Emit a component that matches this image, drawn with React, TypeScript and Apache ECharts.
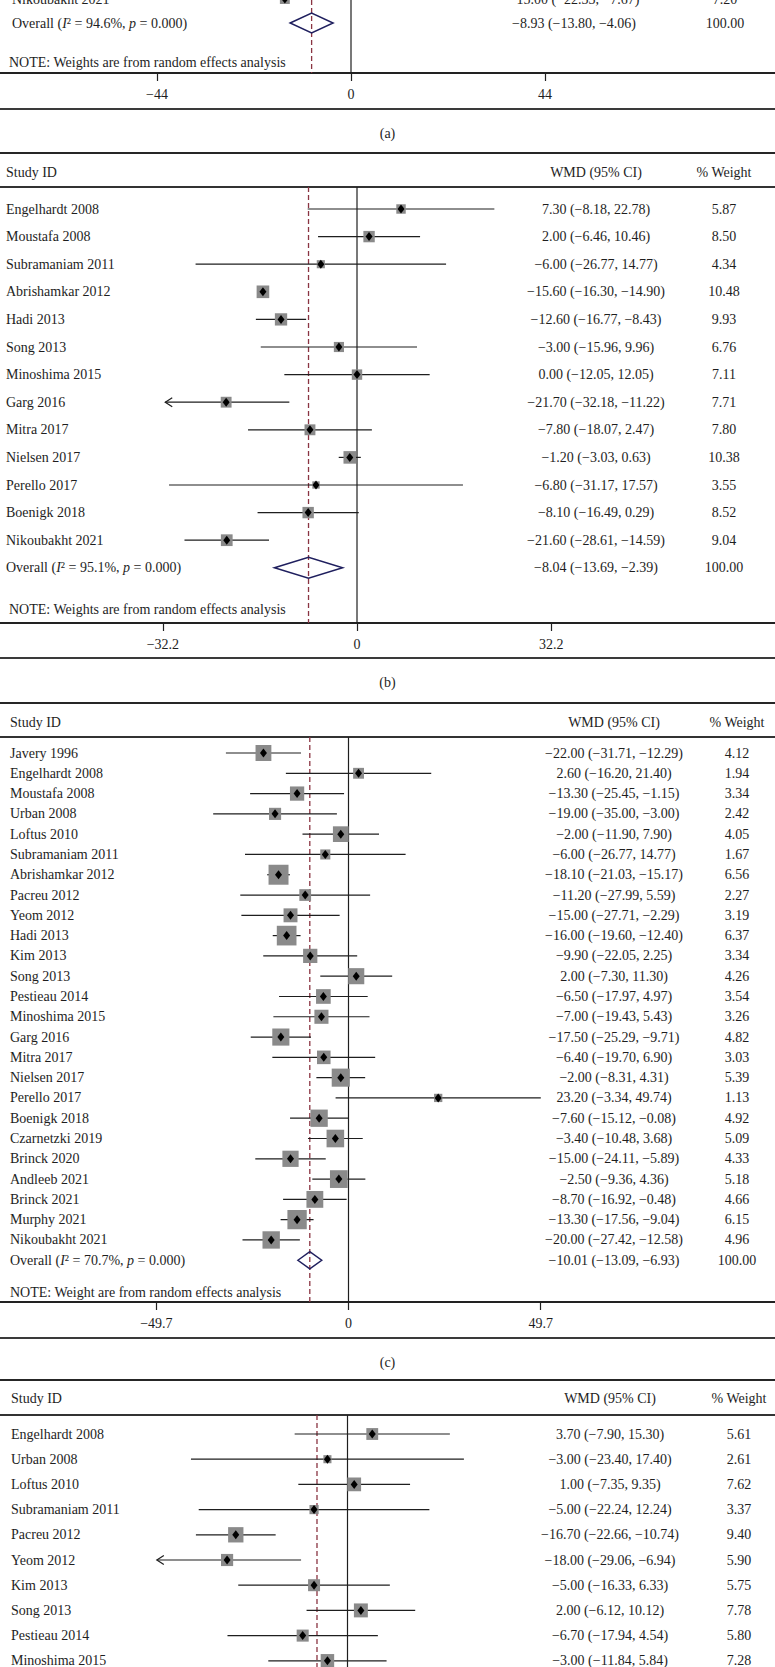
import React, { useEffect, useRef } from 'react';
import * as echarts from 'echarts';

const FONT = '"Liberation Serif", "Times New Roman", serif';
const INK = '#1e1e1e';
const BOX = '#8a8a8a';
const DASH = '#8a3442';
const NAVY = '#1f1f5e';
const W = 775;
const H = 1667;

// ---------- Panel (a): only its tail is visible ----------
const studiesA = ['Nikoubakht 2021'];
const wmdA = [-15.0];
const lowA = [-22.33];
const highA = [-7.67];
const weightA = [7.2];
const overallA = [-8.93, -13.8, -4.06];
const hetA = ['94.6%', '0.000'];
const ticksA = [-44, 0, 44];

// ---------- Panel (b) ----------
const studiesB = ['Engelhardt 2008', 'Moustafa 2008', 'Subramaniam 2011', 'Abrishamkar 2012', 'Hadi 2013', 'Song 2013', 'Minoshima 2015', 'Garg 2016', 'Mitra 2017', 'Nielsen 2017', 'Perello 2017', 'Boenigk 2018', 'Nikoubakht 2021'];
const wmdB = [7.3, 2.0, -6.0, -15.6, -12.6, -3.0, 0.0, -21.7, -7.8, -1.2, -6.8, -8.1, -21.6];
const lowB = [-8.18, -6.46, -26.77, -16.3, -16.77, -15.96, -12.05, -32.18, -18.07, -3.03, -31.17, -16.49, -28.61];
const highB = [22.78, 10.46, 14.77, -14.9, -8.43, 9.96, 12.05, -11.22, 2.47, 0.63, 17.57, 0.29, -14.59];
const weightB = [5.87, 8.5, 4.34, 10.48, 9.93, 6.76, 7.11, 7.71, 7.8, 10.38, 3.55, 8.52, 9.04];
const overallB = [-8.04, -13.69, -2.39];
const hetB = ['95.1%', '0.000'];
const ticksB = [-32.2, 0, 32.2];

// ---------- Panel (c) ----------
const studiesC = ['Javery 1996', 'Engelhardt 2008', 'Moustafa 2008', 'Urban 2008', 'Loftus 2010', 'Subramaniam 2011', 'Abrishamkar 2012', 'Pacreu 2012', 'Yeom 2012', 'Hadi 2013', 'Kim 2013', 'Song 2013', 'Pestieau 2014', 'Minoshima 2015', 'Garg 2016', 'Mitra 2017', 'Nielsen 2017', 'Perello 2017', 'Boenigk 2018', 'Czarnetzki 2019', 'Brinck 2020', 'Andleeb 2021', 'Brinck 2021', 'Murphy 2021', 'Nikoubakht 2021'];
const wmdC = [-22.0, 2.6, -13.3, -19.0, -2.0, -6.0, -18.1, -11.2, -15.0, -16.0, -9.9, 2.0, -6.5, -7.0, -17.5, -6.4, -2.0, 23.2, -7.6, -3.4, -15.0, -2.5, -8.7, -13.3, -20.0];
const lowC = [-31.71, -16.2, -25.45, -35.0, -11.9, -26.77, -21.03, -27.99, -27.71, -19.6, -22.05, -7.3, -17.97, -19.43, -25.29, -19.7, -8.31, -3.34, -15.12, -10.48, -24.11, -9.36, -16.92, -17.56, -27.42];
const highC = [-12.29, 21.4, -1.15, -3.0, 7.9, 14.77, -15.17, 5.59, -2.29, -12.4, 2.25, 11.3, 4.97, 5.43, -9.71, 6.9, 4.31, 49.74, -0.08, 3.68, -5.89, 4.36, -0.48, -9.04, -12.58];
const weightC = [4.12, 1.94, 3.34, 2.42, 4.05, 1.67, 6.56, 2.27, 3.19, 6.37, 3.34, 4.26, 3.54, 3.26, 4.82, 3.03, 5.39, 1.13, 4.92, 5.09, 4.33, 5.18, 4.66, 6.15, 4.96];
const overallC = [-10.01, -13.09, -6.93];
const hetC = ['70.7%', '0.000'];
const ticksC = [-49.7, 0, 49.7];

// ---------- Panel (d): only its head is visible ----------
const studiesD = ['Engelhardt 2008', 'Urban 2008', 'Loftus 2010', 'Subramaniam 2011', 'Pacreu 2012', 'Yeom 2012', 'Kim 2013', 'Song 2013', 'Pestieau 2014', 'Minoshima 2015'];
const wmdD = [3.7, -3.0, 1.0, -5.0, -16.7, -18.0, -5.0, 2.0, -6.7, -3.0];
const lowD = [-7.9, -23.4, -7.35, -22.24, -22.66, -29.06, -16.33, -6.12, -17.94, -11.84];
const highD = [15.3, 17.4, 9.35, 12.24, -10.74, -6.94, 6.33, 10.12, 4.54, 5.84];
const weightD = [5.61, 2.61, 7.62, 3.37, 9.4, 5.9, 5.75, 7.78, 5.8, 7.28];
const pooledD = -4.56;
const ticksD: number[] = [];

const noteWeights = 'NOTE: Weights are from random effects analysis';
const noteWeight = 'NOTE: Weight are from random effects analysis';

const panels = [
  {
    studies: studiesA, wmd: wmdA, low: lowA, high: highA, weight: weightA, overall: overallA, het: hetA, pooled: overallA[0], ticks: ticksA, note: noteWeights, label: '(a)',
    L: { zeroX: 351, ppu: 4.41, rowY0: -1, rowH: 24, plotTop: 0, axisY: 73, topLineY: null, headerY: null, bottomLineY: 109, labelY: 133, nameX: 12, noteX: 9, noteY: 62, wmdX: 574, wtX: 725, boxK: 3.7, ovHalf: 10, clipMin: -999, showAxis: true },
  },
  {
    studies: studiesB, wmd: wmdB, low: lowB, high: highB, weight: weightB, overall: overallB, het: hetB, pooled: overallB[0], ticks: ticksB, note: noteWeights, label: '(b)',
    L: { zeroX: 357, ppu: 6.03, rowY0: 209, rowH: 27.6, plotTop: 187, axisY: 623, topLineY: 153, headerY: 172, bottomLineY: 658, labelY: 682, nameX: 6, noteX: 9, noteY: 609, wmdX: 596, wtX: 724, boxK: 3.9, ovHalf: 10.5, clipMin: -31.8, showAxis: true },
  },
  {
    studies: studiesC, wmd: wmdC, low: lowC, high: highC, weight: weightC, overall: overallC, het: hetC, pooled: overallC[0], ticks: ticksC, note: noteWeight, label: '(c)',
    L: { zeroX: 348.5, ppu: 3.866, rowY0: 753, rowH: 20.29, plotTop: 737, axisY: 1302, topLineY: 703, headerY: 722, bottomLineY: 1338, labelY: 1362, nameX: 10, noteX: 10, noteY: 1292, wmdX: 614, wtX: 737, boxK: 7.8, ovHalf: 8.5, clipMin: -999, showAxis: true },
  },
  {
    studies: studiesD, wmd: wmdD, low: lowD, high: highD, weight: weightD, overall: null, het: null, pooled: pooledD, ticks: ticksD, note: null, label: null,
    L: { zeroX: 347.5, ppu: 6.69, rowY0: 1434, rowH: 25.2, plotTop: 1415, axisY: H, topLineY: 1380, headerY: 1398, bottomLineY: null, labelY: null, nameX: 11, noteX: 11, noteY: null, wmdX: 610, wtX: 739, boxK: 5.0, ovHalf: 10, clipMin: -28.5, showAxis: false },
  },
];

const fmt = (v: number) => (v < 0 ? '\u2212' : '') + Math.abs(v).toFixed(2);
const fmtCI = (e: number, l: number, h: number) => `${fmt(e)} (${fmt(l)}, ${fmt(h)})`;
const tickFmt = (v: number) => (v < 0 ? '\u2212' : '') + String(Math.abs(v));

const txt = (x: number, y: number, text: string, align: string, extra: any = {}) => ({
  type: 'text',
  x,
  y,
  silent: true,
  style: {
    text,
    fontFamily: FONT,
    fontSize: 14,
    fill: INK,
    align,
    textAlign: align,
    verticalAlign: 'middle',
    textVerticalAlign: 'middle',
    ...extra,
  },
});

const hline = (y: number, color: string, width: number) => ({
  type: 'line',
  silent: true,
  shape: { x1: 0, y1: y, x2: W, y2: y },
  style: { stroke: color, lineWidth: width },
});

function buildOption() {
  const grid: any[] = [];
  const xAxis: any[] = [];
  const yAxis: any[] = [];
  const series: any[] = [];
  const graphic: any[] = [];

  panels.forEach((P, pi) => {
    const L = P.L;
    const yMin = (L.plotTop - L.rowY0) / L.rowH;
    const yMax = (L.axisY - L.rowY0) / L.rowH;
    grid.push({ left: 0, width: W, top: L.plotTop, height: L.axisY - L.plotTop });
    xAxis.push({
      gridIndex: pi,
      type: 'value',
      min: -L.zeroX / L.ppu,
      max: (W - L.zeroX) / L.ppu,
      show: L.showAxis,
      axisLine: { show: true, onZero: false, lineStyle: { color: '#222', width: 2 } },
      axisTick: { show: true, inside: false, length: 8, customValues: P.ticks, lineStyle: { color: '#222', width: 1.2 } },
      axisLabel: { show: true, customValues: P.ticks, formatter: tickFmt, margin: 14, fontSize: 14, fontFamily: FONT, color: INK },
      splitLine: { show: false },
    });
    yAxis.push({ gridIndex: pi, type: 'value', min: yMin, max: yMax, inverse: true, show: false, splitLine: { show: false } });

    // reference lines: zero (solid) and pooled estimate (dashed)
    series.push({
      type: 'custom',
      xAxisIndex: pi,
      yAxisIndex: pi,
      silent: true,
      z: 1,
      data: [[0, 0, 0], [P.pooled, 0, 1]],
      renderItem: (params: any, api: any) => {
        const x = api.value(0);
        const kind = api.value(2);
        const p1 = api.coord([x, yMin]);
        const p2 = api.coord([x, yMax]);
        return {
          type: 'line',
          shape: { x1: p1[0], y1: p1[1], x2: p2[0], y2: p2[1] },
          style: kind === 0 ? { stroke: INK, lineWidth: 1.2 } : { stroke: DASH, lineWidth: 1.3, lineDash: [5, 3] },
        };
      },
    });

    // studies
    const rows = P.studies.map((_, i) => [P.wmd[i], i, P.low[i], P.high[i], P.weight[i], i]);
    series.push({
      type: 'custom',
      xAxisIndex: pi,
      yAxisIndex: pi,
      silent: true,
      z: 2,
      clip: false,
      data: rows,
      renderItem: (params: any, api: any) => {
        const est = api.value(0);
        const row = api.value(1);
        const lo = api.value(2);
        const hi = api.value(3);
        const w = api.value(4);
        const idx = api.value(5);
        const c = api.coord([est, row]);
        const y = c[1];
        const clipped = lo < L.clipMin;
        const xl = api.coord([clipped ? L.clipMin : lo, row])[0];
        const xh = api.coord([hi, row])[0];
        const side = L.boxK * Math.sqrt(w);
        const children: any[] = [
          { type: 'line', shape: { x1: xl, y1: y, x2: xh, y2: y }, style: { stroke: INK, lineWidth: 1.2 } },
        ];
        if (clipped) {
          children.push({
            type: 'polyline',
            shape: { points: [[xl + 7, y - 4.5], [xl, y], [xl + 7, y + 4.5]] },
            style: { stroke: INK, fill: null, lineWidth: 1.2 },
          });
        }
        children.push({ type: 'rect', shape: { x: c[0] - side / 2, y: y - side / 2, width: side, height: side }, style: { fill: BOX } });
        children.push({
          type: 'polygon',
          shape: { points: [[c[0], y - 4.5], [c[0] + 3.5, y], [c[0], y + 4.5], [c[0] - 3.5, y]] },
          style: { fill: '#000' },
        });
        children.push(txt(L.nameX, y, P.studies[idx], 'left'));
        children.push(txt(L.wmdX, y, fmtCI(est, lo, hi), 'center'));
        children.push(txt(L.wtX, y, w.toFixed(2), 'center'));
        return { type: 'group', children };
      },
    });

    // overall diamond
    if (P.overall) {
      const ov = P.overall;
      const het = P.het as string[];
      series.push({
        type: 'custom',
        xAxisIndex: pi,
        yAxisIndex: pi,
        silent: true,
        z: 3,
        clip: false,
        data: [[ov[0], P.studies.length, ov[1], ov[2]]],
        renderItem: (params: any, api: any) => {
          const est = api.value(0);
          const row = api.value(1);
          const lo = api.value(2);
          const hi = api.value(3);
          const c = api.coord([est, row]);
          const l = api.coord([lo, row]);
          const h = api.coord([hi, row]);
          const hh = L.ovHalf;
          return {
            type: 'group',
            children: [
              {
                type: 'polygon',
                shape: { points: [[l[0], c[1]], [c[0], c[1] - hh], [h[0], c[1]], [c[0], c[1] + hh]] },
                style: { fill: 'rgba(0,0,0,0)', stroke: NAVY, lineWidth: 1.5 },
              },
              txt(L.nameX, c[1], `Overall ({i|I}\u00b2 = ${het[0]}, {i|p} = ${het[1]})`, 'left', {
                rich: { i: { fontStyle: 'italic', fontFamily: FONT, fontSize: 14, fill: INK } },
              }),
              txt(L.wmdX, c[1], fmtCI(est, lo, hi), 'center'),
              txt(L.wtX, c[1], '100.00', 'center'),
            ],
          };
        },
      });
    }

    // frame: rules, headers, note, panel label
    if (L.topLineY != null) graphic.push(hline(L.topLineY, '#262626', 2));
    if (L.headerY != null) {
      graphic.push(txt(L.nameX, L.headerY, 'Study ID', 'left'));
      graphic.push(txt(L.wmdX, L.headerY, 'WMD (95% CI)', 'center'));
      graphic.push(txt(L.wtX, L.headerY, '% Weight', 'center'));
      graphic.push(hline(L.plotTop, '#333', 2));
    }
    if (P.note && L.noteY != null) graphic.push(txt(L.noteX, L.noteY, P.note, 'left'));
    if (L.bottomLineY != null) graphic.push(hline(L.bottomLineY, '#3a3a3a', 2));
    if (P.label && L.labelY != null) graphic.push(txt(W / 2, L.labelY, P.label, 'center'));
  });

  return {
    animation: false,
    backgroundColor: '#ffffff',
    grid,
    xAxis,
    yAxis,
    series,
    graphic: { elements: graphic },
  };
}

export default function App() {
  const ref = useRef<HTMLDivElement>(null);
  useEffect(() => {
    document.body.style.margin = '0';
    if (!ref.current) return;
    const chart = echarts.init(ref.current, null, { renderer: 'svg', width: W, height: H });
    chart.setOption(buildOption() as any);
    return () => chart.dispose();
  }, []);
  return <div ref={ref} style={{ width: W, height: H, background: '#fff' }} />;
}
